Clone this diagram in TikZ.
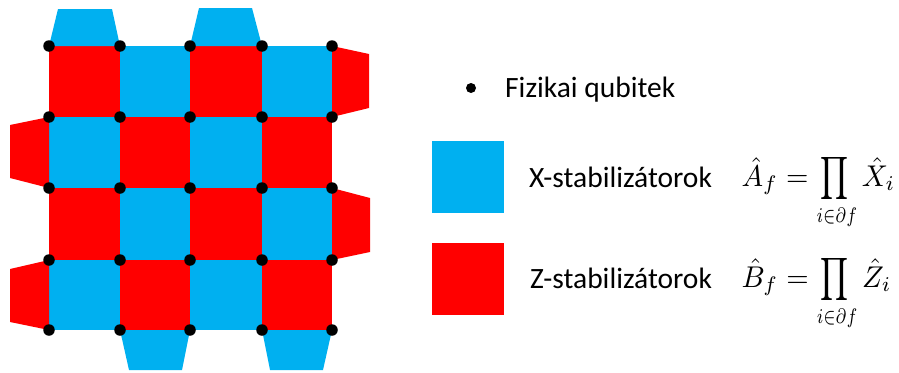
\documentclass[tikz,border=0pt]{standalone}
\usepackage{fontspec}
\setmainfont{Carlito}
\definecolor{xblue}{RGB}{0,176,240}
\definecolor{zred}{RGB}{255,0,0}
\newcommand{\narrowprod}{\mathop{\scalebox{0.76}[1]{$\displaystyle\prod$}}\limits_{\scalebox{0.8}[1]{$\scriptstyle i\in\partial f$}}}
\tikzset{
  xface/.style={fill=xblue},
  zface/.style={fill=zred},
  qubit/.style={circle,fill=black,inner sep=0pt,minimum size=11.5pt},
  legdotstyle/.style={circle,fill=black,inner sep=0pt,minimum size=10pt},
  legtext/.style={anchor=base west,inner sep=0pt,font=\fontsize{29.5}{33}\selectfont},
  legmath/.style={anchor=base west,inner sep=0pt,xscale=2.88,yscale=3},
  legbox/.style={inner sep=0pt,minimum width=72pt,minimum height=72pt}
}
\begin{document}
\begin{tikzpicture}[x=1pt,y=-1pt]
\useasboundingbox (0,0) rectangle (899,372);
% grid coordinates
\foreach \i/\x in {0/49,1/120,2/190,3/262,4/332}{
  \foreach \j/\y in {0/46,1/117,2/188,3/260,4/330}{
    \coordinate (v-\i-\j) at (\x,\y);
  }
}
% bulk faces
\foreach \i in {0,1,2,3}{
  \foreach \j in {0,1,2,3}{
    \pgfmathtruncatemacro{\ii}{\i+1}
    \pgfmathtruncatemacro{\jj}{\j+1}
    \pgfmathtruncatemacro{\parity}{mod(\i+\j,2)}
    \ifnum\parity=0
      \fill[zface] (v-\i-\j) -- (v-\ii-\j) -- (v-\ii-\jj) -- (v-\i-\jj) -- cycle;
    \else
      \fill[xface] (v-\i-\j) -- (v-\ii-\j) -- (v-\ii-\jj) -- (v-\i-\jj) -- cycle;
    \fi
  }
}
% boundary faces
\fill[xface] (v-0-0) -- (v-1-0) -- (112,9) -- (58,9) -- cycle;
\fill[xface] (v-2-0) -- (v-3-0) -- (252,8) -- (199,8) -- cycle;
\fill[zface] (v-4-0) -- (v-4-1) -- (369,108) -- (369,54) -- cycle;
\fill[zface] (v-4-2) -- (v-4-3) -- (370,252) -- (370,198) -- cycle;
\fill[zface] (v-0-1) -- (v-0-2) -- (10,178) -- (10,125) -- cycle;
\fill[zface] (v-0-3) -- (v-0-4) -- (10,322) -- (10,269) -- cycle;
\fill[xface] (v-1-4) -- (v-2-4) -- (182,370) -- (129,370) -- cycle;
\fill[xface] (v-3-4) -- (v-4-4) -- (323,370) -- (270,370) -- cycle;
% qubits
\foreach \i in {0,...,4}{
  \foreach \j in {0,...,4}{
    \node[qubit] (q-\i-\j) at (v-\i-\j) {};
  }
}
% legend
\node[legdotstyle] (legdot) at (471,88) {};
\node[legtext] (legq) at (505,97) {Fizikai qubitek};
\node[legbox,fill=xblue] (legx) at (468,176.5) {};
\node[legtext] (legxt) at (529,187) {X-stabilizátorok};
\node[legmath] (legxm) at (741,186) {$\displaystyle \hat{A}_f = \narrowprod \hat{X}_i$};
\node[legbox,fill=zred] (legz) at (468,278.5) {};
\node[legtext] (legzt) at (530,288) {Z-stabilizátorok};
\node[legmath] (legzm) at (741,287) {$\displaystyle \hat{B}_f = \narrowprod \hat{Z}_i$};
\end{tikzpicture}
\end{document}
